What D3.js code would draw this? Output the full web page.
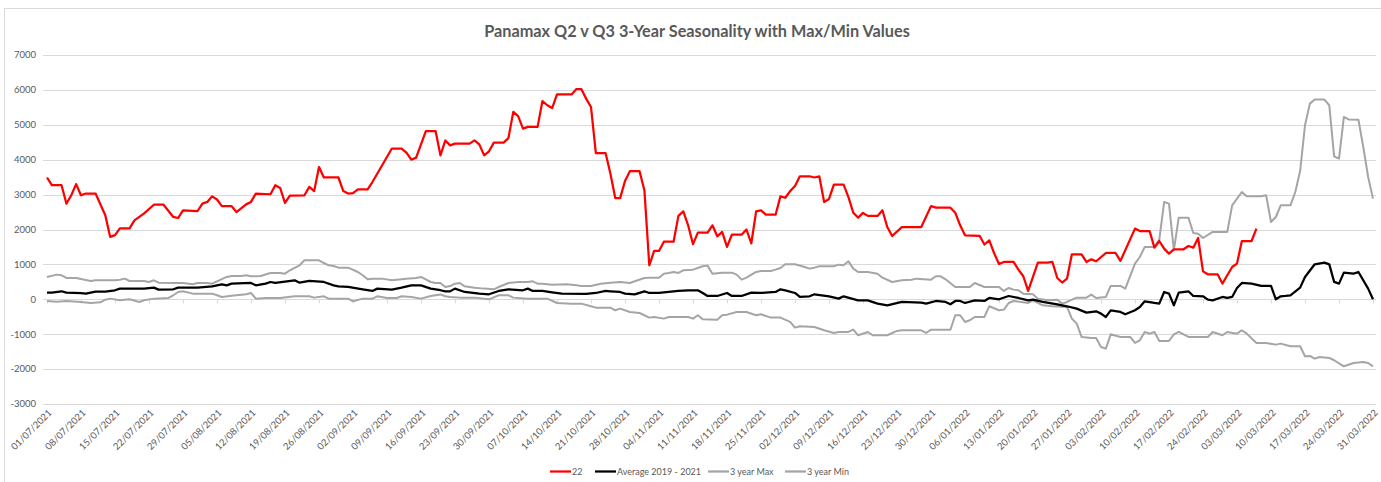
<!DOCTYPE html>
<html>
<head>
<meta charset="utf-8">
<script src="https://cdn.jsdelivr.net/npm/d3@7"></script>
<style>
  body { margin: 0; background: #fff; }
  svg { font-family: Lato, "Liberation Sans", Arial, sans-serif; }
</style>
</head>
<body>
<svg id="chart" width="1381" height="482"></svg>
<script>
// day offsets from 01/07/2021, value
const startDate = new Date(2021, 6, 1);
const endDate = new Date(2022, 2, 31);

const series22 = [[0,3490],[1,3270],[3,3270],[4,2740],[5,2980],[6,3300],[7,2980],[8,3030],[10,3030],[12,2410],[13,1790],[14,1840],[15,2030],[17,2030],[18,2260],[20,2460],[22,2710],[24,2710],[26,2360],[27,2330],[28,2550],[31,2530],[32,2740],[33,2790],[34,2950],[35,2860],[36,2670],[38,2670],[39,2500],[41,2720],[42,2790],[43,3030],[46,3010],[47,3270],[48,3190],[49,2760],[50,2970],[53,2980],[54,3220],[55,3100],[56,3790],[57,3490],[60,3490],[61,3100],[62,3030],[63,3040],[64,3150],[66,3150],[67,3360],[69,3840],[71,4320],[73,4320],[74,4200],[75,4000],[76,4060],[78,4820],[80,4820],[81,4125],[82,4550],[83,4410],[84,4460],[87,4460],[88,4555],[89,4440],[90,4125],[91,4240],[92,4490],[94,4490],[95,4620],[96,5370],[97,5250],[98,4890],[99,4940],[101,4940],[102,5680],[103,5560],[104,5480],[105,5870],[108,5870],[109,6025],[110,6025],[111,5750],[112,5510],[113,4190],[115,4190],[116,3600],[117,2900],[118,2900],[119,3390],[120,3670],[122,3670],[123,3120],[124,975],[125,1385],[126,1385],[127,1650],[129,1650],[130,2390],[131,2520],[132,2120],[133,1580],[134,1910],[136,1910],[137,2120],[138,1805],[139,1930],[140,1500],[141,1850],[143,1850],[144,2000],[145,1600],[146,2520],[147,2550],[148,2425],[150,2425],[151,2950],[152,2910],[153,3100],[154,3245],[155,3525],[157,3525],[158,3490],[159,3525],[160,2790],[161,2875],[162,3285],[164,3285],[165,2930],[166,2480],[167,2340],[168,2475],[169,2390],[171,2390],[172,2550],[173,2070],[174,1815],[176,2070],[180,2070],[182,2670],[183,2625],[186,2625],[187,2480],[188,2120],[189,1834],[192,1820],[193,1570],[194,1690],[195,1320],[196,1010],[197,1070],[199,1070],[200,850],[201,660],[202,240],[204,1050],[206,1050],[207,1070],[208,610],[209,480],[210,590],[211,1290],[213,1290],[214,1070],[215,1145],[216,1090],[218,1327],[220,1327],[221,1100],[224,2025],[225,1957],[227,1957],[228,1480],[229,1670],[230,1452],[231,1309],[232,1433],[234,1433],[235,1528],[236,1480],[237,1757],[238,800],[239,716],[241,716],[242,450],[243,690],[244,926],[245,1022],[246,1670],[248,1670],[249,2025]];

const average = [[0,190],[1,190],[3,230],[4,190],[7,180],[8,165],[10,220],[12,220],[14,258],[15,306],[20,306],[22,334],[23,277],[26,287],[27,334],[31,334],[34,372],[36,430],[37,400],[38,448],[42,468],[43,400],[45,448],[46,496],[47,468],[51,544],[52,477],[54,525],[57,496],[59,400],[60,372],[62,353],[65,287],[67,239],[68,306],[71,277],[73,334],[75,400],[77,400],[79,306],[81,260],[82,229],[83,229],[84,306],[86,210],[89,162],[91,143],[93,239],[95,287],[98,258],[99,306],[100,239],[102,239],[104,200],[106,162],[111,153],[113,181],[115,239],[116,229],[118,210],[119,162],[121,143],[123,229],[124,181],[126,181],[128,210],[130,239],[132,258],[134,258],[135,181],[136,95],[138,95],[140,181],[141,95],[143,95],[145,191],[147,181],[150,210],[151,287],[152,258],[154,181],[155,67],[157,86],[158,143],[161,86],[163,19],[164,86],[167,-29],[169,-29],[171,-124],[173,-172],[176,-76],[180,-95],[181,-124],[183,-48],[185,-76],[186,-143],[187,-48],[188,-48],[189,-105],[191,-29],[193,-48],[194,38],[196,0],[198,95],[200,38],[202,-29],[203,-10],[205,-76],[208,-143],[210,-200],[212,-267],[214,-382],[216,-344],[217,-410],[218,-506],[219,-315],[221,-363],[222,-430],[224,-315],[225,-220],[226,-57],[228,-105],[229,-124],[230,210],[231,162],[232,-172],[233,191],[235,229],[236,95],[238,86],[239,-10],[240,-29],[242,67],[243,38],[244,67],[245,325],[246,468],[248,448],[250,382],[252,382],[253,0],[254,86],[255,95],[256,115],[258,334],[259,640],[261,1003],[263,1050],[264,1000],[265,500],[266,448],[267,764],[269,735],[270,783],[272,306],[273,0]];

const maxSeries = [[0,640],[2,707],[3,688],[4,611],[6,611],[9,525],[10,544],[14,544],[15,563],[16,592],[17,525],[20,525],[21,496],[22,544],[23,477],[27,468],[28,468],[30,430],[31,468],[33,468],[34,448],[37,640],[38,668],[40,668],[41,688],[42,659],[44,668],[46,755],[48,755],[49,735],[50,831],[52,974],[53,1117],[56,1117],[57,1040],[58,974],[59,955],[60,907],[62,907],[64,783],[65,688],[66,573],[67,592],[69,592],[71,544],[72,563],[74,592],[76,611],[77,640],[79,496],[80,468],[81,468],[82,353],[83,380],[84,448],[85,468],[86,372],[88,334],[90,306],[92,287],[93,353],[95,468],[97,496],[99,496],[100,516],[101,448],[102,448],[104,420],[107,430],[109,400],[110,382],[112,382],[114,448],[116,477],[118,496],[120,468],[121,516],[123,611],[124,620],[126,620],[127,735],[128,755],[129,783],[130,755],[131,831],[133,850],[135,945],[136,965],[137,735],[139,764],[141,764],[142,707],[143,563],[144,620],[146,783],[147,812],[149,812],[150,850],[151,898],[152,1003],[154,1003],[156,926],[157,879],[158,907],[159,945],[162,945],[163,993],[164,974],[165,1088],[166,879],[167,783],[169,783],[171,735],[172,620],[174,496],[176,544],[178,563],[179,592],[182,563],[183,659],[184,659],[185,573],[187,353],[190,353],[191,468],[193,353],[196,353],[197,239],[198,325],[199,277],[200,258],[201,162],[203,143],[204,19],[206,-29],[208,-10],[209,-124],[210,-76],[212,48],[214,48],[215,134],[216,38],[218,67],[219,382],[221,382],[222,306],[224,1022],[225,1212],[226,1500],[228,1500],[229,1710],[230,2788],[231,2740],[232,1404],[233,2340],[235,2340],[236,1900],[237,1880],[238,1757],[240,1930],[243,1930],[244,2693],[246,3074],[247,2950],[250,2950],[251,2980],[252,2215],[253,2358],[254,2693],[256,2693],[257,3074],[258,3676],[259,4985],[260,5607],[261,5722],[263,5722],[264,5560],[265,4097],[266,4030],[267,5223],[268,5155],[270,5145],[271,4363],[272,3504],[273,2885]];

const minSeries = [[0,-48],[2,-67],[4,-48],[7,-76],[9,-105],[11,-86],[12,-10],[13,19],[15,-29],[17,0],[19,-76],[20,-29],[22,19],[25,38],[26,115],[27,210],[28,229],[30,162],[34,162],[35,115],[36,67],[38,105],[41,143],[42,181],[43,19],[45,38],[48,38],[51,86],[54,86],[55,48],[57,86],[58,19],[62,19],[63,-57],[65,19],[67,19],[68,86],[70,38],[72,38],[73,86],[75,67],[77,19],[79,95],[81,140],[82,86],[83,67],[85,48],[88,48],[91,0],[93,115],[95,115],[96,48],[99,19],[103,19],[105,-105],[108,-124],[110,-124],[112,-200],[113,-239],[116,-239],[117,-315],[118,-267],[120,-363],[122,-392],[124,-525],[125,-506],[127,-554],[128,-506],[132,-506],[133,-554],[134,-458],[135,-573],[138,-583],[139,-458],[140,-440],[142,-363],[144,-363],[146,-458],[147,-430],[149,-525],[151,-525],[153,-649],[154,-812],[155,-773],[158,-793],[160,-888],[162,-965],[163,-936],[165,-936],[166,-869],[167,-1031],[169,-936],[170,-1031],[173,-1031],[175,-907],[176,-888],[180,-888],[181,-965],[182,-869],[186,-869],[187,-458],[188,-458],[189,-649],[190,-601],[191,-506],[193,-506],[194,-200],[196,-315],[197,-296],[198,-105],[199,-48],[202,-105],[203,-29],[205,-172],[207,-200],[210,-220],[211,-554],[212,-697],[213,-1079],[215,-1108],[216,-1108],[217,-1366],[218,-1413],[219,-1003],[221,-1079],[223,-1079],[224,-1251],[225,-1174],[226,-936],[227,-984],[228,-936],[229,-1194],[231,-1194],[232,-1003],[233,-936],[234,-1003],[235,-1079],[239,-1079],[240,-936],[242,-1031],[243,-936],[245,-984],[246,-888],[247,-984],[249,-1251],[251,-1251],[253,-1299],[254,-1270],[256,-1347],[258,-1347],[259,-1633],[260,-1623],[261,-1700],[262,-1652],[264,-1680],[265,-1747],[267,-1920],[269,-1824],[271,-1795],[272,-1824],[273,-1920]];

const seriesNames = ['22', 'Average 2019 - 2021', '3 year Max', '3 year Min'];
const yTicks = [-3000, -2000, -1000, 0, 1000, 2000, 3000, 4000, 5000, 6000, 7000];
const title = 'Panamax Q2 v Q3 3-Year Seasonality with Max/Min Values';

const textColor = '#595959';
const gridColor = '#d9d9d9';

const svg = d3.select('#chart');

// chart border
svg.append('rect')
  .attr('x', 4.5).attr('y', 8.5)
  .attr('width', 1390).attr('height', 490)
  .attr('fill', 'none').attr('stroke', gridColor);

const x = d3.scaleTime().domain([startDate, endDate]).range([47, 1373]);
const y = d3.scaleLinear().domain([-3000, 7000]).range([404, 55]);

const toDate = d => d3.timeDay.offset(startDate, d[0]);

// gridlines
svg.append('g')
  .selectAll('line')
  .data(yTicks)
  .join('line')
  .attr('x1', 43).attr('x2', 1376)
  .attr('y1', d => Math.round(y(d)) + 0.5)
  .attr('y2', d => Math.round(y(d)) + 0.5)
  .attr('stroke', gridColor)
  .attr('stroke-width', 1);

// y labels
svg.append('g')
  .selectAll('text')
  .data(yTicks)
  .join('text')
  .attr('x', 36)
  .attr('y', d => y(d))
  .attr('dy', '0.35em')
  .attr('text-anchor', 'end')
  .attr('font-size', 9.5)
  .attr('fill', textColor)
  .text(d => d);

// x ticks every thursday (weekly from 01/07/2021)
const weekTicks = d3.timeThursday.range(startDate, d3.timeDay.offset(endDate, 1));
const fmt = d3.timeFormat('%d/%m/%Y');

svg.append('g')
  .selectAll('line')
  .data(weekTicks)
  .join('line')
  .attr('x1', d => Math.round(x(d)) + 0.5)
  .attr('x2', d => Math.round(x(d)) + 0.5)
  .attr('y1', y(0)).attr('y2', y(0) + 4)
  .attr('stroke', gridColor);

svg.append('g')
  .selectAll('text')
  .data(weekTicks)
  .join('text')
  .attr('transform', d => `translate(${x(d) + 3},${411}) rotate(-45)`)
  .attr('text-anchor', 'end')
  .attr('dy', '0.35em')
  .attr('font-size', 9.5)
  .attr('fill', textColor)
  .text(d => fmt(d));

// lines
const line = d3.line()
  .x(d => x(toDate(d)))
  .y(d => y(d[1]));

const lineDefs = [
  { data: maxSeries, color: '#a5a5a5', width: 2 },
  { data: minSeries, color: '#a5a5a5', width: 2 },
  { data: average, color: '#000000', width: 2.25 },
  { data: series22, color: '#ff0000', width: 2.25 }
];

lineDefs.forEach(s => {
  svg.append('path')
    .datum(s.data)
    .attr('fill', 'none')
    .attr('stroke', s.color)
    .attr('stroke-width', s.width)
    .attr('stroke-linejoin', 'round')
    .attr('d', line);
});

// title
svg.append('text')
  .attr('x', 697)
  .attr('y', 37)
  .attr('text-anchor', 'middle')
  .attr('font-size', 16.3)
  .attr('font-weight', 'bold')
  .attr('fill', textColor)
  .text(title);

// legend
const legendItems = [
  { name: seriesNames[0], color: '#ff0000', x: 550 },
  { name: seriesNames[1], color: '#000000', x: 595 },
  { name: seriesNames[2], color: '#a5a5a5', x: 708 },
  { name: seriesNames[3], color: '#a5a5a5', x: 785 }
];

const legend = svg.append('g');
legendItems.forEach(item => {
  legend.append('line')
    .attr('x1', item.x).attr('x2', item.x + 21)
    .attr('y1', 471.5).attr('y2', 471.5)
    .attr('stroke', item.color)
    .attr('stroke-width', 2.25);
  legend.append('text')
    .attr('x', item.x + 22)
    .attr('y', 471.5)
    .attr('dy', '0.35em')
    .attr('font-size', 9)
    .attr('fill', textColor)
    .text(item.name);
});
</script>
</body>
</html>
